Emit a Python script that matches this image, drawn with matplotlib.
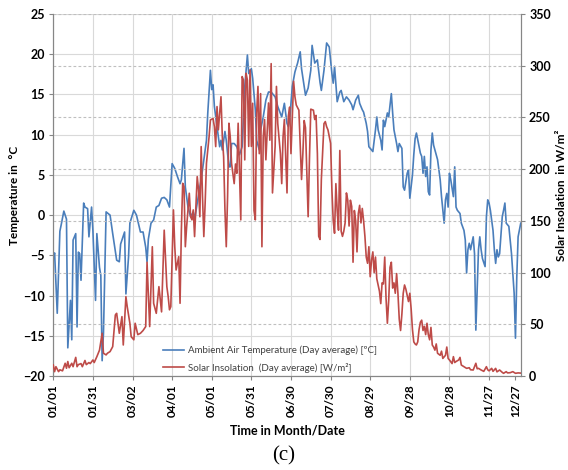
import matplotlib
matplotlib.use('Agg')
import matplotlib.pyplot as plt
import matplotlib.lines as mlines

plt.rcParams['font.family'] = ['Lato', 'DejaVu Sans']

# Day of year (0 = 01/01) and daily-average ambient temperature [degC]
temp_days = [0, 1, 3, 5, 6, 8, 9, 10, 11, 13, 14, 15, 17, 18, 19, 20, 21, 23, 24, 26,
             27, 29, 30, 32, 33, 35, 36, 37, 38, 40, 43, 45, 48, 50, 51, 54, 55, 57, 58, 61,
             63, 66, 68, 70, 71, 72, 74, 76, 78, 80, 82, 84, 86, 88, 90, 92, 94, 96, 97, 99,
             100, 102, 104, 106, 107, 109, 111, 112, 114, 116, 117, 119, 120, 121, 122, 124, 126, 127, 128, 130,
             131, 133, 134, 135, 137, 139, 141, 143, 145, 147, 148, 150, 151, 153, 154, 156, 157, 159, 161, 163,
             165, 168, 170, 173, 175, 177, 178, 179, 181, 183, 185, 187, 188, 190, 191, 193, 195, 196, 198, 200,
             202, 203, 205, 207, 209, 211, 212, 213, 215, 217, 218, 220, 222, 224, 226, 227, 229, 231, 232, 234,
             235, 237, 238, 239, 240, 242, 244, 245, 246, 248, 249, 250, 251, 253, 254, 256, 257, 258, 260, 261,
             262, 264, 265, 266, 268, 269, 270, 272, 273, 274, 275, 277, 278, 279, 280, 281, 282, 283, 284, 285,
             286, 287, 288, 289, 291, 292, 293, 294, 296, 297, 298, 299, 300, 301, 303, 304, 305, 306, 308, 309,
             311, 312, 313, 314, 315, 316, 318, 319, 320, 322, 323, 324, 325, 327, 328, 329, 330, 331, 333, 334,
             335, 336, 337, 338, 340, 341, 342, 343, 345, 346, 347, 349, 350, 351, 352, 354]
temp_c = [-5.4, -4.7, -12.2, -2.0, -1.2, 0.5, 0.0, -0.5, -16.5, -10.6, -15.5, -3.1, -2.3, -13.9, -4.6, -4.8, -8.1, 1.5, 1.0, 0.8,
          -2.7, 1.0, -1.9, -10.6, -2.3, -6.5, -7.5, -18.1, -14.7, 0.4, 0.0, -2.3, -5.6, -5.8, -3.6, -2.1, -9.8, -5.2, -1.0, 0.6,
          0.0, -2.1, -2.1, -4.0, -5.8, -3.0, -1.0, -0.6, 1.0, 1.2, 2.1, 2.2, 1.9, 1.0, 6.4, 5.8, 4.8, 3.9, 4.4, 8.3,
          3.5, 1.0, -0.2, 0.4, -0.6, 1.5, 3.5, 4.4, 6.8, 9.3, 12.7, 18.0, 15.6, 16.2, 13.5, 11.0, 8.5, 9.3, 8.1, 10.4,
          9.3, 6.0, 6.0, 8.9, 8.9, 8.5, 7.5, 8.5, 16.0, 19.9, 17.6, 18.2, 17.0, 13.1, 9.3, 8.1, 10.6, 12.2, 14.3, 15.3,
          15.3, 14.7, 13.5, 12.2, 13.9, 11.4, 11.0, 11.8, 16.0, 17.8, 18.9, 20.3, 18.2, 16.0, 14.9, 15.8, 18.0, 21.1, 18.9, 19.3,
          16.5, 15.5, 18.0, 21.4, 20.9, 17.6, 16.4, 18.5, 14.1, 15.3, 15.5, 14.1, 14.7, 14.3, 13.7, 13.1, 14.3, 14.9, 13.9, 13.1,
          12.8, 11.4, 10.4, 8.5, 8.3, 7.9, 10.6, 12.2, 10.6, 9.3, 8.1, 11.8, 11.0, 12.7, 12.2, 15.1, 12.7, 10.6, 8.9, 7.9,
          8.9, 8.3, 3.5, 3.1, 5.2, 5.6, 2.1, 5.0, 7.5, 9.5, 10.2, 8.5, 7.7, 7.3, 5.2, 7.3, 4.8, 6.0, 2.9, 2.5,
          8.1, 10.2, 8.7, 8.1, 6.9, 5.6, 4.4, 2.3, -1.0, 1.9, 2.7, 1.0, 5.2, 4.4, 2.3, 6.0, 1.0, 0.6, 0.2, -1.0,
          -1.9, -3.1, -7.2, -4.3, -3.5, -4.3, -2.7, -4.8, -14.3, -4.3, -2.7, -4.3, -5.4, -6.4, -0.2, 1.9, 1.5, 0.6, -1.9, -4.3,
          -6.0, -4.3, -5.2, -4.8, -0.2, 0.6, 1.5, -1.0, -1.4, -3.1, -4.8, -9.7, -15.3, -7.7, -2.7, -1.0]

# Day of year and daily-average solar insolation [W/m2]
sun_days = [0, 1, 2, 4, 5, 7, 9, 10, 11, 12, 14, 15, 17, 18, 19, 21, 22, 24, 25, 27,
            28, 30, 31, 33, 35, 37, 38, 40, 41, 43, 45, 47, 48, 50, 52, 53, 55, 56, 58, 59,
            61, 62, 64, 66, 68, 70, 71, 73, 75, 76, 78, 80, 82, 83, 84, 86, 87, 88, 89, 90,
            91, 92, 93, 95, 96, 97, 98, 99, 100, 101, 103, 104, 105, 106, 107, 109, 110, 111, 112, 113,
            114, 115, 116, 117, 118, 119, 121, 122, 123, 124, 125, 127, 128, 129, 130, 131, 132, 133, 134, 135,
            137, 138, 139, 140, 141, 142, 143, 144, 145, 146, 147, 148, 149, 150, 151, 152, 153, 154, 155, 156,
            157, 158, 159, 160, 161, 163, 164, 165, 166, 168, 169, 170, 172, 173, 174, 175, 177, 178, 179, 180,
            182, 183, 184, 186, 188, 189, 190, 191, 193, 194, 195, 197, 198, 199, 200, 201, 202, 203, 205, 206,
            207, 208, 210, 211, 212, 213, 214, 215, 216, 217, 218, 219, 220, 221, 222, 223, 224, 225, 226, 227,
            228, 229, 230, 231, 232, 233, 234, 235, 236, 237, 238, 239, 240, 241, 242, 243, 244, 245, 247, 248,
            249, 250, 251, 252, 253, 254, 255, 256, 257, 258, 259, 260, 261, 262, 263, 264, 265, 266, 267, 268,
            269, 270, 271, 272, 273, 274, 275, 276, 277, 278, 279, 280, 281, 282, 283, 284, 285, 286, 287, 288,
            289, 290, 291, 293, 294, 295, 297, 298, 299, 300, 302, 303, 304, 305, 307, 308, 309, 311, 313, 315,
            316, 318, 320, 321, 322, 324, 326, 328, 329, 330, 332, 333, 335, 336, 338, 340, 341, 343, 344, 346,
            348, 350, 352, 354]
sun_wm2 = [10.7, 4.2, 9, 4.2, 6, 5, 12.3, 7.5, 14, 8, 12.3, 9, 18, 9, 11, 12, 9, 15, 11, 13,
           12, 15.5, 13, 18.7, 25, 41.3, 22, 20.4, 22, 23.6, 28.4, 59, 60.6, 41.3, 57.4, 30, 76.7, 67, 51, 38,
           35, 51, 40, 41.3, 44, 47.8, 110, 47.8, 125, 70.3, 60.6, 86.4, 62, 100, 141, 86.4, 76.8, 64, 67, 115,
           160.6, 125, 102.5, 115.4, 70.3, 141, 186.3, 183, 125, 144.5, 176.7, 154, 151, 160.6, 134.8, 192.8, 180, 154, 221.8, 173.5,
           134.8, 167, 205.7, 218.6, 231.5, 247.6, 249, 241, 221.8, 260.5, 238, 270, 231.5, 212, 160.6, 125, 173.5, 244.4, 231.5, 205.7,
           186, 205, 196, 244.4, 199, 151, 289.5, 286.3, 209, 292.7, 286, 222, 296, 222, 263.7, 160, 151, 254, 280, 215,
           273, 125, 231, 248, 209, 264, 228, 302, 177, 222, 280, 244, 215, 186, 231, 248, 177, 251, 260, 215,
           285, 270, 262, 257, 190, 215, 247, 240, 154, 210, 258, 257, 248, 252, 215, 135, 132, 190, 244, 246,
           241, 238, 225, 180, 150, 138, 186, 160, 141, 218, 140, 135, 140, 148, 177, 170, 145, 170, 164, 110,
           160, 150, 120, 157, 165, 148, 162, 150, 135, 115, 109, 125, 96, 112, 120, 100, 115, 94, 82, 70,
           90, 89, 115, 75, 51, 73, 105, 110, 85, 90, 80, 99, 80, 55, 44, 60, 80, 88, 84, 78,
           72, 80, 65, 45, 33, 31, 30, 33, 45, 52, 54, 44, 48, 40, 51, 40, 35, 47, 30, 28,
           25, 31, 22, 20, 24, 17, 20, 28, 17, 15.5, 12, 18.7, 13, 14, 15.5, 18, 10.6, 9, 7.4, 8,
           6, 5.8, 12.3, 7, 7.4, 5.8, 4.5, 9, 6, 5, 7.4, 4.5, 7.4, 4, 5.8, 3.5, 2.6, 4.2, 3, 3.2,
           4.2, 2.6, 3.0, 2.8]

tick_days = [0, 30, 60, 90, 120, 150, 180, 210, 240, 270, 300, 330, 350]
tick_labels = ['01/01', '01/31', '03/02', '04/01', '05/01', '05/31', '06/30',
               '07/30', '08/29', '09/28', '10/28', '11/27', '12/27']

blue = '#4a7ebb'
red = '#be4b48'
grid_col = '#d9d9d9'
axis_col = '#868686'

fig = plt.figure(figsize=(5.68, 4.70), dpi=100)
ax = fig.add_axes([0.0938, 0.2, 0.823, 0.7702])
ax2 = ax.twinx()

# grid: solid for left axis, dashed for right axis, vertical at date ticks
for v in range(-20, 26, 5):
    ax.axhline(v, color=grid_col, lw=0.8, zorder=0)
for d in tick_days[:-1]:
    ax.axvline(d, color=grid_col, lw=0.8, zorder=0)
for v in range(50, 351, 50):
    ax2.axhline(v, color='#bfbfbf', lw=0.8, ls=(0, (2.5, 2)), zorder=0)

ax.plot(temp_days, temp_c, color=blue, lw=1.2, zorder=3)
ax2.plot(sun_days, sun_wm2, color=red, lw=1.2, zorder=3)

ax.set_xlim(0, 354)
ax.set_ylim(-20, 25)
ax2.set_ylim(0, 350)
ax.set_yticks(range(-20, 26, 5))
ax2.set_yticks(range(0, 351, 50))
ax.set_xticks(tick_days)
ax.set_xticklabels(tick_labels, rotation=90, fontsize=8.5, fontweight='bold')
for lab in ax.get_yticklabels():
    lab.set_fontsize(9)
    lab.set_fontweight('bold')
for lab in ax2.get_yticklabels():
    lab.set_fontsize(9)
    lab.set_fontweight('bold')

for a in (ax, ax2):
    a.spines['top'].set_visible(False)
    for s in ('left', 'right', 'bottom'):
        a.spines[s].set_color(axis_col)
        a.spines[s].set_linewidth(0.8)
    a.tick_params(color=axis_col, length=3, width=0.8, pad=3)

ax.set_xlabel('Time in Month/Date', fontsize=9, fontweight='bold', labelpad=5)
ax.set_ylabel('Temperature in  \u00b0C', fontsize=8.5, fontweight='bold', labelpad=2)
ax2.set_ylabel('Solar Insolation  in W/m\u00b2', fontsize=8.5, fontweight='bold',
               rotation=90, labelpad=4)

h1 = mlines.Line2D([], [], color=blue, lw=1.2)
h2 = mlines.Line2D([], [], color=red, lw=1.2)
leg = ax2.legend([h1, h2],
                 ['Ambient Air Temperature (Day average) [\u00baC]',
                  'Solar Insolation  (Day average) [W/m\u00b2]'],
                 loc='lower left', bbox_to_anchor=(0.215, -0.015), frameon=False,
                 fontsize=7, handlelength=2.2, handletextpad=0.4, labelspacing=0.75)
for t in leg.get_texts():
    t.set_color('#404040')

fig.text(0.5, 0.03, '(c)', ha='center', va='center', fontsize=15,
         family=['Liberation Serif', 'DejaVu Serif'])

fig.savefig('out.png', dpi=100)
